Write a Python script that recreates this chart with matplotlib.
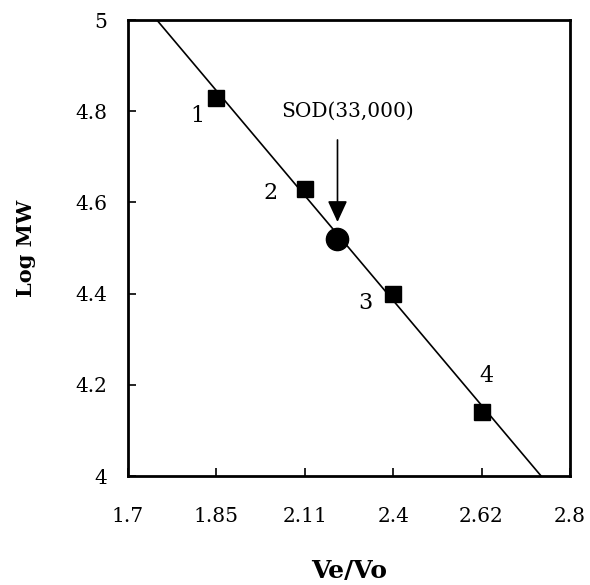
import numpy as np
import matplotlib
matplotlib.use("Agg")
import matplotlib.pyplot as plt

# Data
x_tick_labels = ["1.7", "1.85", "2.11", "2.4", "2.62", "2.8"]
y_ticks = [4.0, 4.2, 4.4, 4.6, 4.8, 5.0]
y_tick_labels = ["4", "4.2", "4.4", "4.6", "4.8", "5"]
std_labels = ["1", "2", "3", "4"]
std_ve_vo = ["1.85", "2.11", "2.4", "2.62"]
std_logmw = [4.83, 4.63, 4.40, 4.14]
sod_pos = 2.37          # position on the category axis (between 2.11 and 2.4)
sod_logmw = 4.52
sod_label = "SOD(33,000)"

plt.rcParams['font.family'] = ['DejaVu Serif']

fig = plt.figure(figsize=(5.9, 5.85), dpi=100)
ax = fig.add_axes([0.217, 0.1863, 0.749, 0.7795])

xpos = np.arange(len(x_tick_labels))
std_x = np.array([x_tick_labels.index(v) for v in std_ve_vo], dtype=float)
std_y = np.array(std_logmw)

# regression line through standards
k, b = np.polyfit(std_x, std_y, 1)
lx = np.array([-1, 6])
ax.plot(lx, k * lx + b, color='black', lw=1.2, zorder=2)

ax.plot(std_x, std_y, 's', color='black', ms=12, zorder=3)
ax.plot([sod_pos], [sod_logmw], 'o', color='black', ms=16, zorder=3)

# number labels
lab_off = [(-0.22, -0.04), (-0.39, -0.01), (-0.32, -0.02), (0.06, 0.08)]
for lbl, x, y, (dx, dy) in zip(std_labels, std_x, std_y, lab_off):
    ax.text(x + dx, y + dy, lbl, fontsize=16, ha='center', va='center',
            fontweight='light')

# SOD annotation
ax.text(2.49, 4.80, sod_label, fontsize=14.5, ha='center', va='center')
ax.annotate("", xy=(sod_pos, sod_logmw + 0.037), xytext=(sod_pos, 4.737),
            arrowprops=dict(arrowstyle='-|>,head_length=1.3,head_width=0.6',
                            color='black', lw=1.2, shrinkA=0, shrinkB=0))

ax.set_xlim(0, 5)
ax.set_ylim(4, 5)
ax.set_xticks(xpos)
ax.set_xticklabels(x_tick_labels)
ax.set_yticks(y_ticks)
ax.set_yticklabels(y_tick_labels)
ax.tick_params(direction='in', length=6, width=1.2, labelsize=14.5)
ax.tick_params(axis='x', pad=22)
ax.tick_params(axis='y', pad=15)
for s in ax.spines.values():
    s.set_linewidth(2)

ax.set_xlabel("Ve/Vo", fontsize=18, fontweight='bold', labelpad=24)
ax.set_ylabel("Log MW", fontsize=15, fontweight='bold', labelpad=28)

fig.savefig("out.png", dpi=100)
